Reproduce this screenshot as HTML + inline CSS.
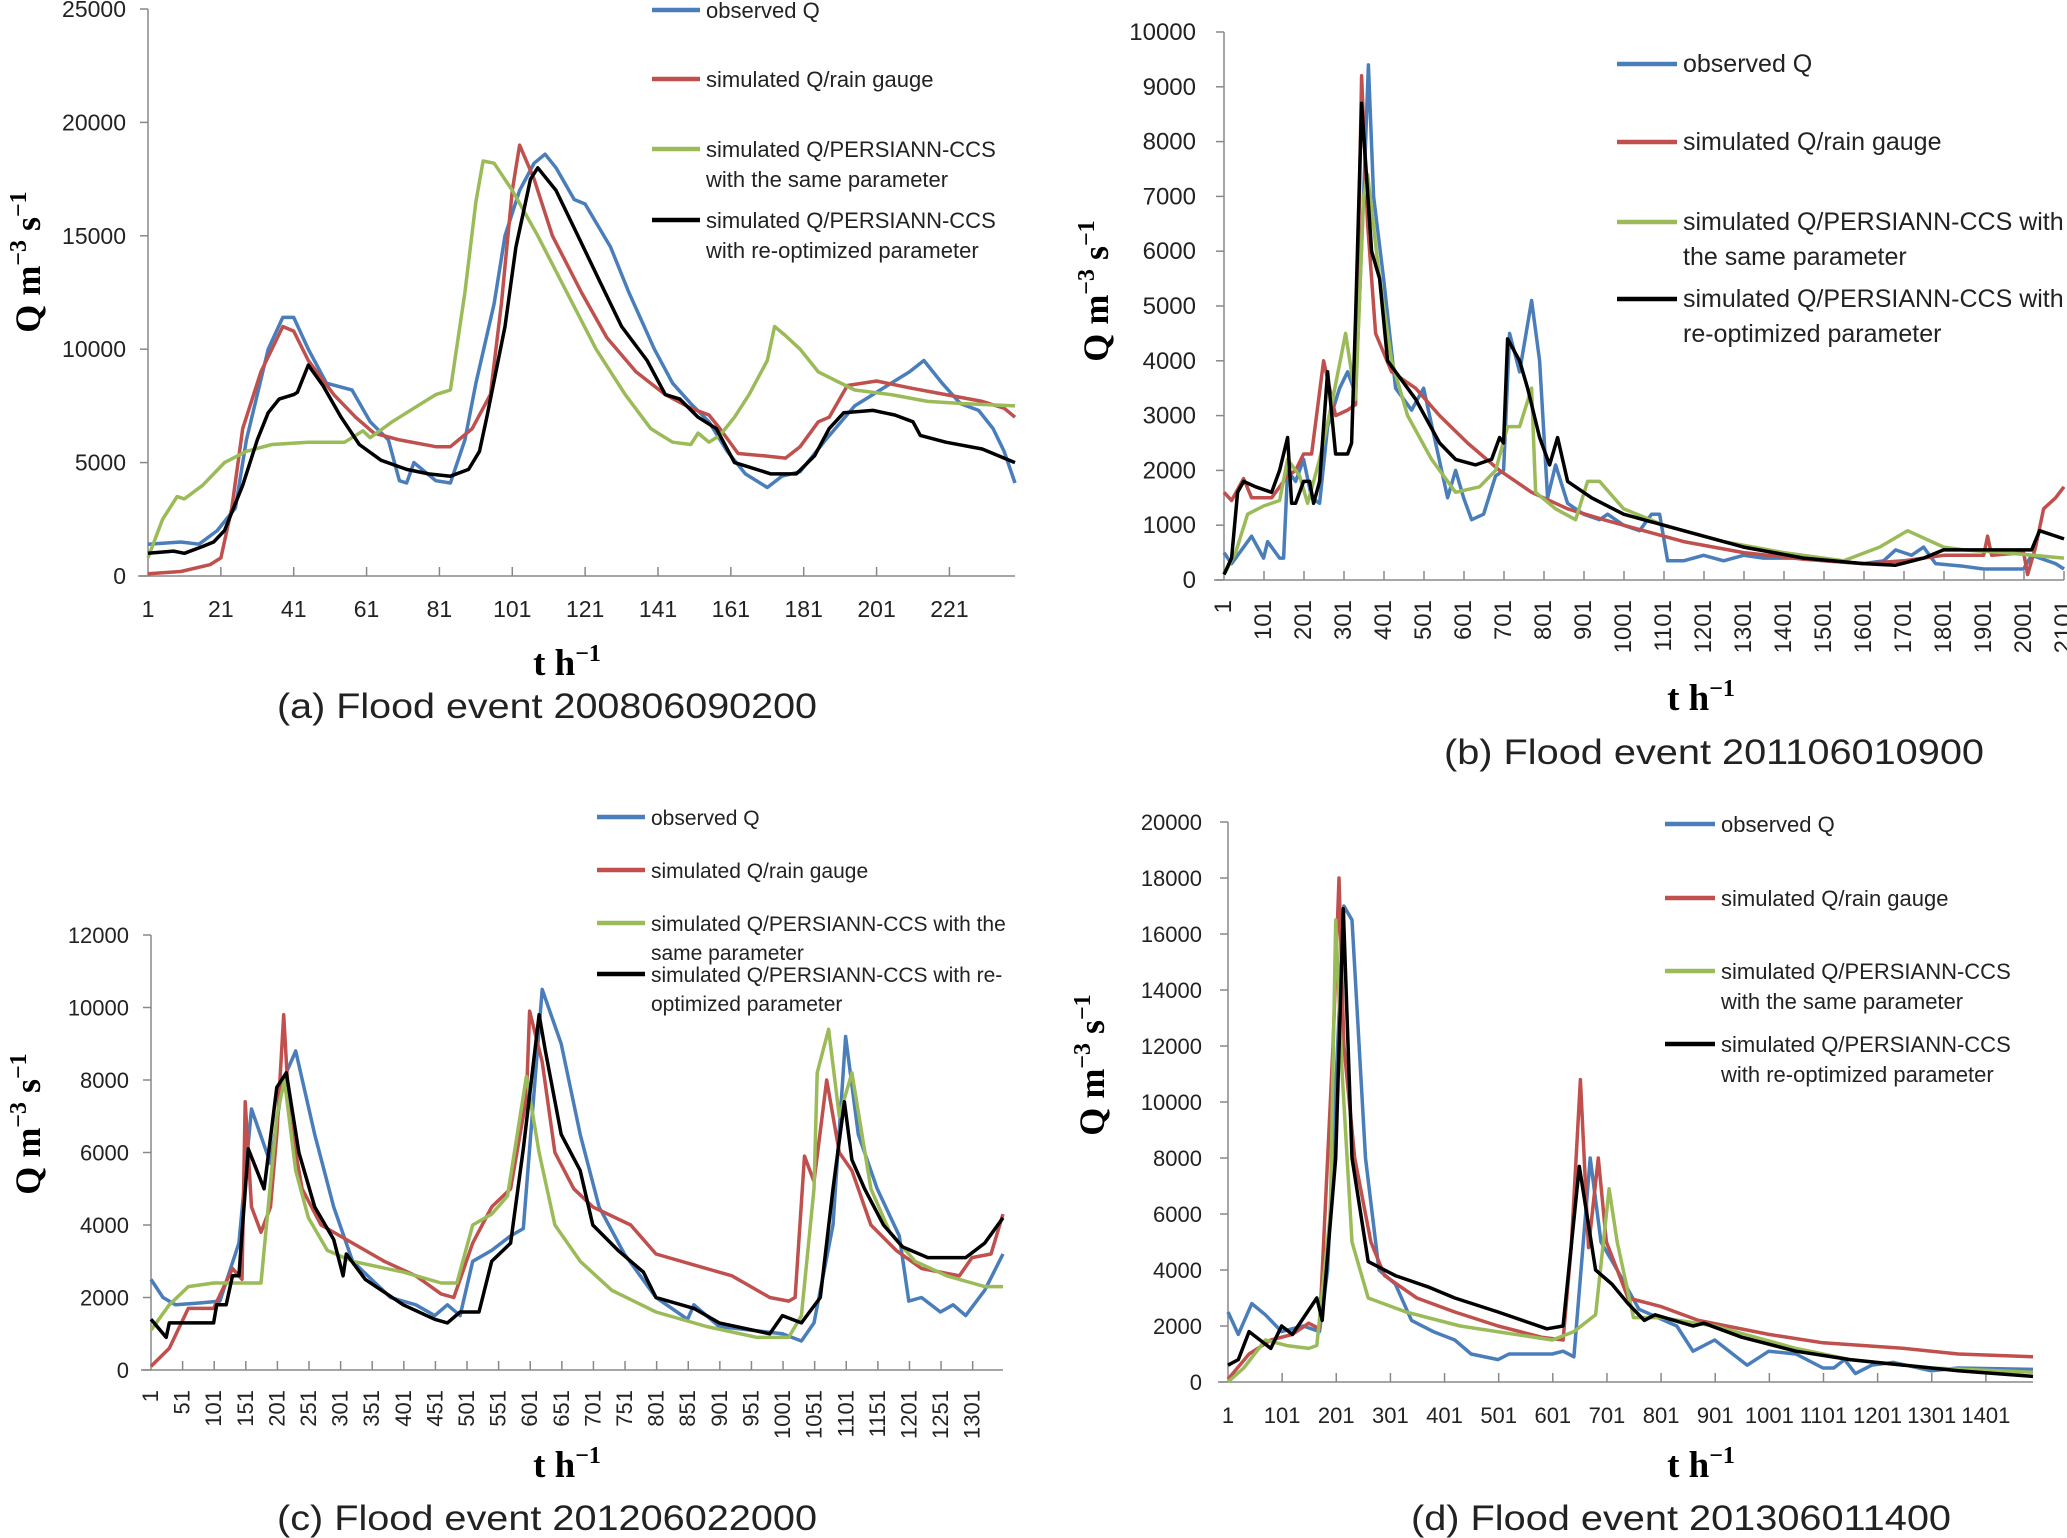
<!DOCTYPE html>
<html><head><meta charset="utf-8"><style>
html,body{margin:0;padding:0;background:#fff;}
svg{display:block;}
text{font-family:"Liberation Sans",sans-serif;fill:#222;}
.tt{font-family:"Liberation Serif",serif;font-weight:bold;fill:#000;}
</style></head><body>
<svg id="fig" width="2067" height="1538" viewBox="0 0 2067 1538" xmlns="http://www.w3.org/2000/svg"></svg>
<script>
// ---------- Panel A data ----------
const aObsT=[1,10,15,20,25,28,34,38,41,45,50,57,62,67,70,72,74,80,84,88,91,96,99,103,107,110,113,118,121,128,133,140,145,150,155,160,165,171,175,180,187,195,205,210,214,219,224,229,233,236,239];
const aObsV=[1400,1500,1400,2000,3000,6000,10000,11400,11400,10000,8500,8200,6800,6000,4200,4100,5000,4200,4100,6000,8500,12000,15000,17000,18200,18600,18000,16600,16400,14500,12500,10000,8500,7600,6800,5500,4500,3900,4400,4600,6000,7500,8500,9000,9500,8500,7600,7300,6500,5500,4100];
const aRainT=[1,10,18,21,24,27,32,38,41,45,52,58,63,70,80,84,90,95,98,101,103,107,112,120,127,135,143,150,155,158,163,170,176,180,185,188,193,201,210,220,230,236,239];
const aRainV=[100,200,500,800,3000,6500,9000,11000,10800,9500,8000,7000,6300,6000,5700,5700,6500,8000,12000,17000,19000,17500,15000,12500,10500,9000,8000,7400,7100,6500,5400,5300,5200,5700,6800,7000,8400,8600,8300,8000,7700,7400,7000];
const aSameT=[1,5,9,11,16,22,28,35,45,55,60,62,68,74,80,84,88,91,93,96,101,108,116,124,132,139,145,150,152,155,158,162,166,171,173,176,180,185,190,195,205,215,225,239];
const aSameV=[800,2500,3500,3400,4000,5000,5500,5800,5900,5900,6400,6100,6800,7400,8000,8200,12500,16500,18300,18200,17000,15000,12500,10000,8000,6500,5900,5800,6300,5900,6200,7000,8000,9500,11000,10600,10000,9000,8600,8200,8000,7700,7600,7500];
const aReoT=[1,8,11,16,19,22,27,31,34,37,41,42,45,49,54,59,65,72,78,84,89,92,94,99,102,106,108,113,119,125,131,138,143,147,152,157,162,166,172,179,184,188,192,200,206,211,213,220,230,239];
const aReoV=[1000,1100,1000,1300,1500,2000,4000,6000,7200,7800,8000,8100,9300,8400,7000,5800,5100,4700,4500,4400,4700,5500,7000,11000,14500,17500,18000,17000,15000,13000,11000,9500,8000,7800,7000,6500,5000,4800,4500,4500,5300,6500,7200,7300,7100,6800,6200,5900,5600,5000];
const aYTicks=[0,5000,10000,15000,20000,25000];
const aXTicks=[1,21,41,61,81,101,121,141,161,181,201,221];
// ---------- Panel B data ----------
const bObsT=[1,20,70,100,110,140,150,160,180,200,220,240,260,290,310,330,350,362,375,400,430,470,500,530,560,580,600,620,650,680,700,715,740,770,790,810,830,860,900,940,960,1000,1040,1070,1090,1110,1150,1200,1250,1300,1350,1450,1500,1600,1650,1680,1720,1750,1780,1850,1900,2000,2020,2080,2101];
const bObsV=[500,300,800,400,700,400,400,2000,1800,2200,1500,1400,2800,3500,3800,3400,7000,9400,7000,5500,3500,3100,3500,2500,1500,2000,1500,1100,1200,1900,2000,4500,3800,5100,4000,1500,2100,1400,1200,1100,1200,1000,900,1200,1200,350,350,450,350,450,400,400,350,300,350,550,450,600,300,250,200,200,450,300,200];
const bRainT=[1,20,50,70,120,160,180,200,220,250,280,310,330,345,360,380,420,480,540,610,690,770,860,950,1050,1150,1300,1450,1600,1700,1800,1900,1910,1920,2000,2010,2030,2050,2080,2101];
const bRainV=[1600,1450,1850,1500,1500,1900,2000,2300,2300,4000,3000,3100,3200,9200,6500,4500,3800,3500,3000,2500,2000,1600,1300,1100,900,700,500,380,300,350,450,450,800,450,500,100,600,1300,1500,1700];
const bSameT=[1,30,60,100,140,160,190,210,240,270,305,330,350,360,390,420,460,520,580,640,680,710,740,770,780,830,880,910,940,1000,1100,1250,1400,1550,1640,1710,1800,1850,1950,2101];
const bSameV=[100,500,1200,1350,1450,2200,1900,1400,2200,3200,4500,3300,7000,7400,5500,4000,3000,2200,1600,1700,2000,2800,2800,3500,1600,1300,1100,1800,1800,1300,1000,700,500,350,600,900,600,550,500,400];
const bReoT=[1,20,35,50,80,120,140,160,170,180,200,215,225,240,260,280,310,320,330,345,370,390,410,480,540,580,630,670,690,700,710,740,760,790,815,835,860,920,1000,1150,1300,1450,1600,1680,1750,1800,1900,2020,2040,2101];
const bReoV=[100,400,1600,1800,1700,1600,2000,2600,1400,1400,1800,1800,1400,1800,3800,2300,2300,2500,4800,8700,6000,5500,4000,3300,2500,2200,2100,2200,2600,2500,4400,4000,3500,2600,2100,2600,1800,1500,1200,900,600,400,300,270,400,550,550,550,900,750];
const bYTicks=[0,1000,2000,3000,4000,5000,6000,7000,8000,9000,10000];
const bXTicks=[1,101,201,301,401,501,601,701,801,901,1001,1101,1201,1301,1401,1501,1601,1701,1801,1901,2001,2101];
// ---------- Panel C data ----------
const cObsT=[1,20,40,80,110,140,160,190,210,230,260,290,320,380,420,450,470,490,510,540,570,590,620,650,680,710,750,800,850,860,900,950,1000,1030,1050,1080,1100,1120,1150,1185,1200,1220,1250,1270,1290,1320,1349];
const cObsV=[2500,2000,1800,1850,1900,3500,7200,5700,8000,8800,6500,4500,3000,2000,1800,1500,1800,1500,3000,3300,3700,3900,10500,9000,6500,4500,3200,2000,1400,1800,1200,1100,1000,800,1300,4000,9200,6500,5000,3700,1900,2000,1600,1800,1500,2200,3200];
const cRainT=[1,30,60,100,130,145,150,160,175,190,200,211,220,240,270,320,370,420,460,480,510,540,570,595,600,620,640,670,700,760,800,860,920,940,980,1010,1020,1035,1050,1070,1090,1110,1140,1180,1220,1250,1280,1300,1330,1349];
const cRainV=[100,600,1700,1700,2800,2500,7400,4500,3800,4500,6500,9800,7000,5000,4000,3500,3000,2600,2100,2000,3500,4500,5000,7500,9900,8500,6000,5000,4500,4000,3200,2900,2600,2400,2000,1900,2000,5900,5200,8000,6000,5500,4000,3300,2800,2700,2600,3100,3200,4300];
const cSameT=[1,30,60,100,140,175,200,212,230,250,280,320,400,460,485,510,540,565,595,615,640,680,730,800,880,960,1010,1030,1050,1055,1073,1090,1110,1140,1170,1210,1260,1300,1320,1349];
const cSameV=[1100,1800,2300,2400,2400,2400,7000,8000,5500,4200,3300,3000,2700,2400,2400,4000,4300,4800,8100,6000,4000,3000,2200,1600,1200,900,900,1500,5000,8200,9400,7000,8200,5000,3800,3000,2600,2400,2300,2300];
const cReoT=[1,25,30,100,105,120,130,140,155,180,200,215,235,260,290,305,310,340,400,450,470,490,520,540,570,590,615,625,650,680,700,740,780,800,860,900,980,1000,1030,1060,1080,1098,1110,1130,1160,1190,1230,1290,1320,1349];
const cReoV=[1400,900,1300,1300,1800,1800,2600,2600,6100,5000,7800,8200,6000,4500,3600,2600,3200,2500,1800,1400,1300,1600,1600,3000,3500,6100,9800,8800,6500,5500,4000,3300,2700,2000,1700,1300,1000,1500,1300,2000,5000,7400,5800,5000,4000,3400,3100,3100,3500,4200];
const cYTicks=[0,2000,4000,6000,8000,10000,12000];
const cXTicks=[1,51,101,151,201,251,301,351,401,451,501,551,601,651,701,751,801,851,901,951,1001,1051,1101,1151,1201,1251,1301];
// ---------- Panel D data ----------
const dObsT=[1,20,45,70,100,140,170,185,215,230,255,280,310,340,380,420,450,500,520,600,620,640,670,690,720,760,830,860,900,960,1000,1050,1100,1120,1140,1160,1190,1230,1300,1350,1488];
const dObsV=[2500,1700,2800,2400,1800,2000,1800,4000,17000,16500,8000,4000,3500,2200,1800,1500,1000,800,1000,1000,1100,900,8000,5000,4000,2600,2000,1100,1500,600,1100,1000,500,500,800,300,600,700,400,500,450];
const dRainT=[1,40,80,120,150,170,195,206,215,235,265,290,350,420,500,580,620,635,652,667,685,700,740,800,870,1000,1100,1250,1350,1488];
const dRainV=[100,1000,1500,1700,2100,1900,12000,18000,12000,8000,5000,3800,3000,2500,2000,1600,1500,4800,10800,4800,8000,5000,3000,2700,2200,1700,1400,1200,1000,900];
const dSameT=[1,30,70,110,150,165,190,200,212,230,260,330,430,600,640,680,705,720,750,800,900,1050,1150,1300,1488];
const dSameV=[0,500,1500,1300,1200,1300,6000,16500,11000,5000,3000,2500,2000,1500,1800,2400,6900,5000,2300,2300,2000,1200,800,500,350];
const dReoT=[1,20,40,80,100,120,165,175,200,214,230,260,310,370,420,500,590,620,650,680,710,740,770,790,860,880,950,1050,1150,1250,1350,1488];
const dReoV=[600,800,1800,1200,2000,1700,3000,2200,8000,16900,8000,4300,3800,3400,3000,2500,1900,2000,7700,4000,3500,2800,2200,2400,2000,2100,1600,1100,800,600,400,200];
const dYTicks=[0,2000,4000,6000,8000,10000,12000,14000,16000,18000,20000];
const dXTicks=[1,101,201,301,401,501,601,701,801,901,1001,1101,1201,1301,1401];

const NS="http://www.w3.org/2000/svg";
const svg=document.getElementById('fig');
const COLORS=["#4a7ebb","#c0504d","#9bbb59","#000000"];
function mk(tag,attrs,parent){const e=document.createElementNS(NS,tag);for(const k in attrs)e.setAttribute(k,attrs[k]);(parent||svg).appendChild(e);return e;}

function panel(P){
  const g=mk('g',{});
  
  
  const xs=t=>P.x0+(t-1)/(P.tmax-1)*(P.x1-P.x0);
  const ys=v=>P.y0-v/P.ymax*(P.y0-P.yTop);
  const ya=mk('line',{x1:P.x0,y1:P.yTop,x2:P.x0,y2:P.y0,stroke:'#888','stroke-width':1.5},g);
  
  
  const xa=mk('line',{x1:P.x0-10,y1:P.y0,x2:P.x1,y2:P.y0,stroke:'#888','stroke-width':1.5},g);
  
  
  P.yticks.forEach(v=>{
    mk('line',{x1:P.x0-8,y1:ys(v),x2:P.x0,y2:ys(v),stroke:'#888','stroke-width':1.5},g);
    const t=mk('text',{x:P.ylabX,y:ys(v)+8,'text-anchor':'end','font-size':P.tickFs},g);
    t.textContent=v;
    
    
  });
  P.xticks.forEach(v=>{
    const x=xs(v);
    if(v!==1) mk('line',{x1:x,y1:P.y0-9,x2:x,y2:P.y0,stroke:'#888','stroke-width':1.5},g);
    let t;
    if(P.rot){
      t=mk('text',{x:0,y:0,'text-anchor':'end','font-size':P.tickFs,transform:`translate(${x+7},${P.y0+20}) rotate(-90)`},g);
    } else {
      t=mk('text',{x:x,y:P.y0+41,'text-anchor':'middle','font-size':P.tickFs},g);
    }
    t.textContent=v;
    
    
  });
  const names=['observed-q-line','rain-gauge-line','persiann-same-param-line','persiann-reoptimized-line'];
  P.series.forEach((s,i)=>{
    const d=s[0].map((t,j)=>(j?'L':'M')+xs(t).toFixed(1)+','+ys(s[1][j]).toFixed(1)).join('');
    const p=mk('path',{d:d,fill:'none',stroke:COLORS[i],'stroke-width':3.5,'stroke-linejoin':'round'},g);
    
    
  });
  P.legend.forEach((row,i)=>{
    const lg=mk('g',{},g);
    
    
    mk('line',{x1:P.lx1,y1:row.y,x2:P.lx2,y2:row.y,stroke:COLORS[i],'stroke-width':4.5},lg);
    row.lines.forEach((ln,k)=>{
      const t=mk('text',{x:P.lx2+6,y:row.y+8+k*P.lsp,'font-size':P.lfs},lg);
      t.textContent=ln;
    });
  });
  const yt=mk('text',{class:'tt','font-size':36,'text-anchor':'middle',transform:`translate(${P.ytx},${P.yty}) rotate(-90)`},g);
  yt.innerHTML='Q m<tspan dy="-14" font-size="24">−3</tspan><tspan dy="14"> s</tspan><tspan dy="-14" font-size="24">−1</tspan>';
  
  
  const xt=mk('text',{class:'tt','font-size':37,'text-anchor':'middle',x:P.xtx,y:P.xty},g);
  xt.innerHTML='t h<tspan dy="-14" font-size="24">−1</tspan>';
  
  
  const cp=mk('text',{'font-size':35,'text-anchor':'middle',x:P.cx,y:P.cy,fill:'#111',textLength:P.cw,lengthAdjust:'spacingAndGlyphs'},g);
  cp.textContent=P.caption;
  
  
}

panel({name:'chart-a',x0:148,x1:1015,tmax:239,y0:576,yTop:9,ymax:25000,yticks:aYTicks,xticks:aXTicks,rot:false,ylabX:126,tickFs:23,
  series:[[aObsT,aObsV],[aRainT,aRainV],[aSameT,aSameV],[aReoT,aReoV]],
  lx1:652,lx2:700,lfs:22,lsp:30,
  legend:[{y:10,lines:['observed Q']},{y:79,lines:['simulated Q/rain gauge']},{y:149,lines:['simulated Q/PERSIANN-CCS','with the same parameter']},{y:220,lines:['simulated Q/PERSIANN-CCS','with re-optimized parameter']}],
  ytx:40,yty:262,xtx:567,xty:675,cx:547,cy:718,cw:540,caption:'(a) Flood event 200806090200'});
panel({name:'chart-b',x0:1224,x1:2064,tmax:2101,y0:580,yTop:32,ymax:10000,yticks:bYTicks,xticks:bXTicks,rot:true,ylabX:1196,tickFs:24,
  series:[[bObsT,bObsV],[bRainT,bRainV],[bSameT,bSameV],[bReoT,bReoV]],
  lx1:1617,lx2:1677,lfs:25,lsp:35,
  legend:[{y:64,lines:['observed Q']},{y:142,lines:['simulated Q/rain gauge']},{y:222,lines:['simulated Q/PERSIANN-CCS with','the same parameter']},{y:299,lines:['simulated Q/PERSIANN-CCS with','re-optimized parameter']}],
  ytx:1108,yty:291,xtx:1701,xty:710,cx:1714,cy:764,cw:540,caption:'(b) Flood event 201106010900'});
panel({name:'chart-c',x0:151,x1:1003,tmax:1349,y0:1370,yTop:935,ymax:12000,yticks:cYTicks,xticks:cXTicks,rot:true,ylabX:129,tickFs:22,
  series:[[cObsT,cObsV],[cRainT,cRainV],[cSameT,cSameV],[cReoT,cReoV]],
  lx1:597,lx2:645,lfs:21,lsp:29,
  legend:[{y:817,lines:['observed Q']},{y:870,lines:['simulated Q/rain gauge']},{y:923,lines:['simulated Q/PERSIANN-CCS with the','same parameter']},{y:974,lines:['simulated Q/PERSIANN-CCS with re-','optimized parameter']}],
  ytx:40,yty:1124,xtx:567,xty:1477,cx:547,cy:1530,cw:540,caption:'(c) Flood event 201206022000'});
panel({name:'chart-d',x0:1228,x1:2033,tmax:1488,y0:1382,yTop:822,ymax:20000,yticks:dYTicks,xticks:dXTicks,rot:false,ylabX:1202,tickFs:22,
  series:[[dObsT,dObsV],[dRainT,dRainV],[dSameT,dSameV],[dReoT,dReoV]],
  lx1:1665,lx2:1715,lfs:22,lsp:30,
  legend:[{y:824,lines:['observed Q']},{y:898,lines:['simulated Q/rain gauge']},{y:971,lines:['simulated Q/PERSIANN-CCS','with the same parameter']},{y:1044,lines:['simulated Q/PERSIANN-CCS','with re-optimized parameter']}],
  ytx:1104,yty:1065,xtx:1701,xty:1477,cx:1681,cy:1530,cw:540,caption:'(d) Flood event 201306011400'});
</script>
</body></html>
